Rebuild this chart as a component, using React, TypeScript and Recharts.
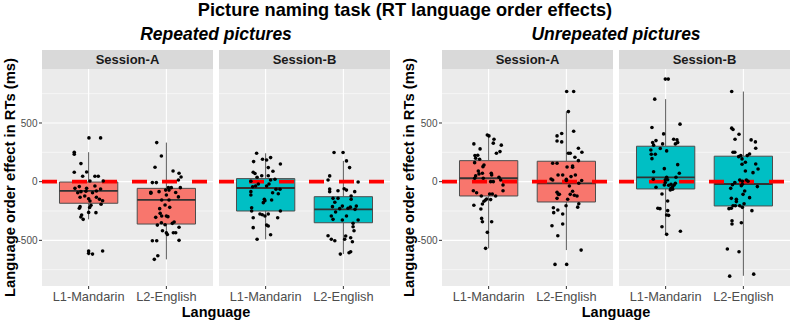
import React from "react";
import {
  ComposedChart,
  Scatter,
  XAxis,
  YAxis,
  ReferenceLine,
  ReferenceArea,
  CartesianGrid,
} from "recharts";

// Category labels
const languages = ["L1-Mandarin", "L2-English"];
const sessions = ["Session-A", "Session-B"];
const conditions = ["Repeated pictures", "Unrepeated pictures"];

// Y axis ticks (major labelled) and minor grid values
const yTicks = [-500, 0, 500];
const yMinor = [-750, -250, 250, 750];
const yDomain = [-889, 960];

// Participant-level effects: [jitter offset (category units), effect in ms]
const repA_L1: [number, number][] = [
  [0.004, 373], [0.154, 373], [-0.185, 251], [-0.185, 234], [-0.099, 154], [-0.185, 80],
  [-0.026, 82], [-0.077, 46], [0.081, 46], [0.124, 46], [0.017, 6], [0.188, 6],
  [-0.176, -57], [-0.12, -42], [-0.099, -85], [-0.026, -57], [0.081, -37], [0.1, -80],
  [0.154, -62], [-0.14, -94], [0.05, -94], [-0.035, -82], [-0.11, -133], [-0.05, -122],
  [0.0, -145], [0.017, -165], [0.1, -133], [0.14, -150], [0.18, -162], [0.16, -193],
  [0.03, -202], [-0.11, -213], [-0.12, -227], [0.013, -220], [0.094, -264], [0.0, -262],
  [-0.09, -284], [-0.1, -301], [-0.07, -321], [0.0, -591], [0.0, -611], [0.05, -617],
  [0.18, -591],
];
const repA_L2: [number, number][] = [
  [-0.124, 333], [-0.064, 219], [-0.146, 123], [0.086, 91], [0.163, 72], [0.189, 40],
  [0.155, 14], [-0.18, -8], [-0.129, -8], [0.026, -51], [0.064, -51], [0.18, -51],
  [-0.2, -90], [-0.2, -98], [-0.094, -85], [-0.009, -72], [0.034, -72], [0.12, -92],
  [0.0, -113], [0.155, -130], [-0.06, -156], [0.034, -156], [-0.017, -199], [-0.086, -230],
  [0.043, -219], [-0.08, -270], [-0.06, -293], [-0.137, -304], [0.0, -293], [0.02, -298],
  [-0.116, -370], [-0.064, -350], [-0.017, -367], [0.077, -355], [0.1, -344], [0.163, -389],
  [-0.05, -418], [0.0, -435], [0.013, -450], [0.09, -435], [0.12, -435], [-0.18, -503],
  [-0.124, -503], [0.163, -500], [-0.11, -631], [-0.155, -662],
];
const repB_L1: [number, number][] = [
  [-0.116, 242], [-0.04, 191], [0.013, 185], [0.064, 205], [-0.155, 171], [0.19, 151],
  [0.034, 120], [0.094, 89], [-0.16, 80], [-0.137, 70], [-0.05, 51], [-0.11, 37],
  [0.034, 51], [0.12, 20], [-0.19, 3], [-0.129, -37], [-0.167, -43], [-0.19, -85],
  [-0.19, -113], [-0.094, -20], [0.013, -37], [0.043, -20], [0.064, 14], [0.133, -65],
  [0.185, -65], [0.09, -94], [0.163, -103], [-0.017, -150], [-0.009, -162], [-0.03, -179],
  [0.077, -156], [-0.18, -222], [-0.18, -250], [0.19, -250], [-0.073, -276], [-0.043, -282],
  [-0.009, -293], [0.034, -276], [-0.16, -307], [0.155, -307], [0.013, -370], [0.034, -378],
  [-0.16, -392], [0.064, -452], [-0.11, -491],
];
const repB_L2: [number, number][] = [
  [-0.12, 248], [-0.004, 248], [0.04, 177], [0.08, 120], [-0.176, 49], [-0.197, 14],
  [0.19, -3], [-0.176, -62], [-0.176, -85], [-0.069, -77], [0.01, -60], [0.04, -72],
  [0.146, -85], [0.1, -122], [0.1, -150], [-0.133, -142], [-0.069, -142], [-0.11, -176],
  [-0.14, -213], [-0.013, -208], [-0.047, -230], [0.06, -226], [0.09, -217], [0.15, -236],
  [0.167, -208], [-0.1, -259], [-0.155, -293], [-0.133, -321], [-0.013, -327], [0.04, -293],
  [0.19, -327], [0.125, -355], [0.125, -384], [0.137, -418], [-0.197, -461], [-0.155, -491],
  [-0.11, -503], [0.03, -463], [0.017, -491], [0.094, -478], [0.116, -512], [0.073, -606],
  [0.094, -597], [-0.039, -617],
];
const unrepA_L1: [number, number][] = [
  [-0.017, 398], [0.004, 390], [0.069, 362], [0.06, 328], [-0.19, 322], [0.163, 311],
  [-0.11, 279], [0.146, 256], [0.1, 242], [-0.176, 222], [-0.14, 225], [-0.167, 200],
  [-0.116, 191], [-0.18, 162], [-0.06, 142], [-0.073, 128], [-0.133, 91], [-0.08, 72],
  [-0.124, 66], [-0.167, 49], [-0.18, 29], [-0.069, 29], [0.034, 72], [0.039, 57],
  [0.133, 37], [0.155, 14], [0.026, 0], [0.06, 0], [0.185, -28], [0.185, -77],
  [-0.197, -77], [-0.155, -94], [-0.094, -122], [-0.039, -156], [-0.06, -167], [-0.08, -190],
  [-0.1, -233], [-0.026, -148], [0.013, -105], [0.047, -105], [0.09, -122], [0.026, -153],
  [-0.19, -201], [-0.09, -313], [-0.08, -341], [0.039, -341], [-0.017, -432], [-0.039, -568],
];
const unrepA_L2: [number, number][] = [
  [0.004, 768], [0.094, 768], [0.026, 597], [0.094, 430], [-0.12, 390], [-0.06, 410],
  [-0.12, 347], [-0.06, 339], [0.155, 285], [0.2, 251], [0.026, 242], [0.05, 242],
  [0.11, 208], [0.155, 179], [-0.176, 157], [-0.12, 157], [0.009, 125], [0.08, 134],
  [0.08, 123], [-0.107, 57], [-0.047, 57], [0.116, 57], [-0.197, 23], [-0.176, 14],
  [0.0, 20], [0.0, 10], [0.06, 43], [0.197, 10], [0.16, -14], [0.039, -37],
  [-0.12, -90], [-0.103, -108], [-0.09, -108], [-0.12, -142], [0.08, -82], [0.103, -116],
  [0.05, -108], [0.137, -122], [0.017, -150], [-0.004, -205], [0.16, -188], [0.146, -217],
  [-0.167, -222], [-0.11, -241], [-0.163, -264], [-0.047, -276], [-0.185, -375], [-0.047, -361],
  [-0.11, -461], [0.19, -583], [-0.146, -705], [0.004, -705],
];
const unrepB_L1: [number, number][] = [
  [-0.004, 874], [0.034, 874], [-0.14, 703], [0.185, 490], [-0.176, 461], [-0.026, 407],
  [0.103, 362], [0.146, 356], [0.125, 322], [0.155, 333], [-0.124, 350], [-0.167, 333],
  [-0.155, 311], [-0.039, 322], [-0.19, 270], [-0.069, 282], [0.013, 262], [-0.185, 234],
  [-0.133, 234], [-0.176, 196], [-0.017, 111], [0.155, 145], [-0.155, 85], [0.176, 72],
  [0.133, 37], [0.013, 37], [-0.004, 16], [0.026, 16], [-0.159, 20], [0.069, -22],
  [0.09, -43], [0.069, -56], [0.11, -28], [0.125, -14], [0.09, -65], [0.06, -71],
  [0.039, -31], [-0.004, -8], [-0.017, -28], [-0.124, -48], [-0.047, -105], [0.026, -165],
  [-0.1, -227], [-0.073, -230], [0.026, -247], [0.013, -284], [0.039, -287], [-0.047, -384],
  [0.19, -423], [0.013, -449],
];
const unrepB_L2: [number, number][] = [
  [-0.15, 768], [-0.15, 456], [-0.133, 444], [-0.056, 404], [-0.107, 362], [0.1, 356],
  [0.155, 339], [0.159, 285], [-0.133, 251], [-0.11, 251], [-0.06, 213], [-0.034, 222],
  [-0.017, 194], [0.05, 222], [0.08, 236], [0.026, 165], [0.159, 151], [-0.017, 148],
  [0.189, 108], [0.124, 77], [0.026, 91], [-0.047, 14], [-0.013, 3], [0.039, 14],
  [0.06, 3], [-0.11, -8], [-0.14, -26], [-0.026, -34], [-0.013, -22], [0.18, -42],
  [-0.163, -57], [0.017, -79], [-0.004, -108], [0.08, -136], [-0.155, -142], [-0.09, -150],
  [-0.09, -170], [0.009, -188], [-0.047, -205], [-0.133, -205], [-0.103, -205], [-0.185, -230],
  [-0.155, -227], [-0.013, -219], [0.11, -247], [-0.146, -333], [-0.146, -361], [-0.026, -350],
  [-0.206, -574], [-0.056, -597], [-0.176, -805], [0.133, -788],
];

// Box summaries: [lower whisker, Q1, median, Q3, upper whisker]
const repA_L1_box = [-321, -184, -79, -3, 251];
const repA_L2_box = [-662, -361, -156, -57, 333];
const repB_L1_box = [-491, -250, -54, 26, 242];
const repB_L2_box = [-617, -350, -236, -128, 177];
const unrepA_L1_box = [-568, -122, 29, 179, 398];
const unrepA_L2_box = [-583, -173, -14, 174, 597];
const unrepB_L1_box = [-449, -62, 37, 302, 703];
const unrepB_L2_box = [-802, -207, -20, 217, 768];

const FONT = "'Liberation Sans', Arial, Helvetica, sans-serif";
const SESSION_FILLS = ["#F8766D", "#00BFC4"];
const PLOT_TOP = 69;
const PLOT_H = 217;
const X_AXIS_H = 23;

type Group = { pts: [number, number][]; box: number[] };

function Panel({
  left,
  width,
  yAxisWidth,
  groups,
  fill,
}: {
  left: number;
  width: number;
  yAxisWidth: number;
  groups: Group[];
  fill: string;
}) {
  const points = groups.flatMap((g, i) =>
    g.pts.map(([j, v]) => ({ x: i + 1 + j, y: v }))
  );
  const boxHalf = 0.375;
  return (
    <div style={{ position: "absolute", left, top: PLOT_TOP }}>
      <ComposedChart
        width={width}
        height={PLOT_H + X_AXIS_H}
        margin={{ top: 0, right: 0, bottom: 0, left: 0 }}
      >
        <CartesianGrid
          fill="#EBEBEB"
          stroke="#FFFFFF"
          strokeWidth={0.55}
          horizontalValues={yMinor}
          vertical={false}
        />
        <CartesianGrid
          stroke="#FFFFFF"
          strokeWidth={1.1}
          horizontalValues={yTicks}
          verticalValues={[1, 2]}
        />
        <XAxis
          type="number"
          dataKey="x"
          domain={[0.4, 2.6]}
          ticks={[1, 2]}
          interval={0}
          allowDataOverflow
          height={X_AXIS_H}
          axisLine={false}
          tickSize={3}
          tickMargin={3}
          tickLine={{ stroke: "#333333" }}
          tick={{ fill: "#4D4D4D", fontSize: 12.8, fontFamily: FONT }}
          tickFormatter={(v: number) => languages[Math.round(v) - 1]}
        />
        <YAxis
          type="number"
          dataKey="y"
          domain={yDomain}
          ticks={yTicks}
          interval={0}
          allowDataOverflow
          hide={yAxisWidth === 0}
          width={yAxisWidth}
          axisLine={false}
          tickSize={3}
          tickMargin={1.5}
          tickLine={{ stroke: "#333333" }}
          tick={{ fill: "#4D4D4D", fontSize: 10, fontFamily: FONT }}
        />
        {groups.map((g, i) => {
          const c = i + 1;
          const [lo, q1, med, q3, hi] = g.box;
          return [
            <ReferenceLine
              key={`wu${i}`}
              segment={[{ x: c, y: q3 }, { x: c, y: hi }]}
              stroke="#595959"
              strokeWidth={1}
            />,
            <ReferenceLine
              key={`wl${i}`}
              segment={[{ x: c, y: lo }, { x: c, y: q1 }]}
              stroke="#595959"
              strokeWidth={1}
            />,
            <ReferenceArea
              key={`b${i}`}
              x1={c - boxHalf}
              x2={c + boxHalf}
              y1={q1}
              y2={q3}
              fill={fill}
              fillOpacity={1}
              stroke="#4D4D4D"
              strokeWidth={1}
            />,
            <ReferenceLine
              key={`m${i}`}
              segment={[{ x: c - boxHalf, y: med }, { x: c + boxHalf, y: med }]}
              stroke="#333333"
              strokeWidth={1.8}
            />,
          ];
        })}
        <ReferenceLine
          y={0}
          stroke="#FF0000"
          strokeWidth={3.8}
          strokeDasharray="15 15"
        />
        <Scatter
          data={points}
          isAnimationActive={false}
          shape={(p: any) => <circle cx={p.cx} cy={p.cy} r={1.8} fill="#000000" />}
        />
      </ComposedChart>
    </div>
  );
}

function Strip({ x, w, label }: { x: number; w: number; label: string }) {
  return (
    <g>
      <rect x={x} y={50} width={w} height={19} fill="#D9D9D9" />
      <text
        x={x + w / 2}
        y={64.2}
        textAnchor="middle"
        fontSize={13}
        fontWeight="bold"
        fill="#1A1A1A"
      >
        {label}
      </text>
    </g>
  );
}

export default function App() {
  const panels = [
    { left: 0, width: 213, yAxisWidth: 42, fill: SESSION_FILLS[0], groups: [
      { pts: repA_L1, box: repA_L1_box }, { pts: repA_L2, box: repA_L2_box }] },
    { left: 219, width: 171, yAxisWidth: 0, fill: SESSION_FILLS[1], groups: [
      { pts: repB_L1, box: repB_L1_box }, { pts: repB_L2, box: repB_L2_box }] },
    { left: 395, width: 218, yAxisWidth: 47, fill: SESSION_FILLS[0], groups: [
      { pts: unrepA_L1, box: unrepA_L1_box }, { pts: unrepA_L2, box: unrepA_L2_box }] },
    { left: 619, width: 171, yAxisWidth: 0, fill: SESSION_FILLS[1], groups: [
      { pts: unrepB_L1, box: unrepB_L1_box }, { pts: unrepB_L2, box: unrepB_L2_box }] },
  ];
  const yTitle = "Language order effect in RTs (ms)";
  return (
    <div
      style={{
        position: "absolute",
        left: 0,
        top: 0,
        width: 790,
        height: 320,
        background: "#FFFFFF",
        fontFamily: FONT,
        overflow: "hidden",
      }}
    >
      <svg
        width={790}
        height={320}
        style={{ position: "absolute", left: 0, top: 0 }}
        fontFamily={FONT}
      >
        <text x={405} y={15.5} textAnchor="middle" fontSize={18.2} fontWeight="bold" fill="#000">
          Picture naming task (RT language order effects)
        </text>
        <text x={216} y={40} textAnchor="middle" fontSize={17.5} fontWeight="bold" fontStyle="italic" fill="#000">
          {conditions[0]}
        </text>
        <text x={616} y={40} textAnchor="middle" fontSize={17.5} fontWeight="bold" fontStyle="italic" fill="#000">
          {conditions[1]}
        </text>
        <Strip x={42} w={171} label={sessions[0]} />
        <Strip x={219} w={171} label={sessions[1]} />
        <Strip x={442} w={171} label={sessions[0]} />
        <Strip x={619} w={171} label={sessions[1]} />
        <text transform="translate(14.5,177.5) rotate(-90)" textAnchor="middle" fontSize={14.8} fontWeight="bold" fill="#000">
          {yTitle}
        </text>
        <text transform="translate(413.5,177.5) rotate(-90)" textAnchor="middle" fontSize={14.8} fontWeight="bold" fill="#000">
          {yTitle}
        </text>
        <text x={216} y={316.5} textAnchor="middle" fontSize={14.5} fontWeight="bold" fill="#000">
          Language
        </text>
        <text x={616} y={316.5} textAnchor="middle" fontSize={14.5} fontWeight="bold" fill="#000">
          Language
        </text>
      </svg>
      {panels.map((p, i) => (
        <Panel key={i} {...p} />
      ))}
    </div>
  );
}
